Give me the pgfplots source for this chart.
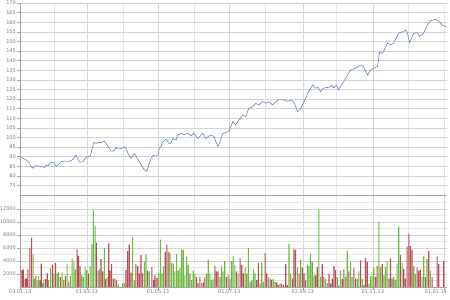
\documentclass[border=0pt]{standalone}
\usepackage{fontspec}
\setmainfont{DejaVu Sans}
\usepackage{pgfplots}
\pgfplotsset{compat=1.18}
\definecolor{pline}{RGB}{92,124,178}
\definecolor{vgreen}{RGB}{105,188,62}
\definecolor{vred}{RGB}{185,75,85}
\definecolor{gmaj}{RGB}{212,212,212}
\definecolor{gmin}{RGB}{230,230,230}
\definecolor{axl}{RGB}{165,165,165}
\definecolor{tl}{RGB}{125,125,125}
\pgfplotsset{
  chartbase/.style={
    scale only axis,
    xmin=1.8, xmax=367.5,
    axis x line*=bottom, axis y line*=left,
    axis line style={axl, line width=0.6pt},
    tick align=outside, major tick length=3pt, minor tick length=0pt,
    tick style={axl, line width=0.5pt},
    /pgf/number format/assume math mode=true,
    /pgf/number format/1000 sep={},
    tick label style={font=\fontsize{5}{6}\selectfont, text=tl, inner sep=1pt},
    scaled y ticks=false,
    xtick={2,59,120,181,244,304},
    minor xtick={31,90,151,212,273,334,365},
    grid=both,
    major grid style={gmaj, line width=0.5pt},
    minor grid style={gmin, line width=0.5pt},
  }
}
\begin{document}
\begin{tikzpicture}
\useasboundingbox (0pt,0pt) rectangle (450pt,300pt);
\begin{axis}[chartbase, anchor=north west, at={(20pt,297pt)}, width=427pt, height=192pt,
  ymin=70, ymax=170, ytick={75,80,...,170},
  xticklabels={}, xtick style={draw=none}]
\addplot[pline, line width=0.55pt, mark=none] coordinates {
(2.9,89.6) (7.1,88.2) (9.9,86.8) (11.4,84.8) (12.9,83.9) (14.2,85.1) (17.1,85.2) (19.9,84.8)
(22.8,84.4) (24.2,85.7) (25.7,85.2) (27.0,86.2) (28.5,87.0) (31.3,86.8) (32.8,84.8) (34.2,85.7)
(37.0,87.4) (39.9,87.7) (42.8,87.5) (45.6,87.9) (47.0,88.6) (48.4,89.6) (49.9,90.8) (51.3,88.6)
(53.3,87.0) (55.6,87.4) (58.4,89.6) (60.4,90.0) (62.1,90.3) (63.3,93.4) (65.0,97.4) (67.0,96.9)
(68.9,97.4) (71.2,97.2) (74.1,98.1) (76.4,96.0) (78.3,94.3) (79.8,92.9) (82.1,92.9) (84.1,94.8)
(85.5,94.0) (88.3,94.1) (91.1,95.2) (92.6,94.3) (94.9,90.8) (96.9,89.1) (98.3,90.3) (99.7,91.7)
(102.6,88.6) (104.0,87.4) (106.3,85.1) (108.2,83.1) (110.3,82.4) (111.1,83.4) (112.5,86.5) (114.0,89.1)
(116.5,90.8) (120.0,90.8) (121.1,94.3) (122.5,95.2) (124.2,97.8) (126.8,99.0) (129.4,96.9) (131.1,97.0)
(132.8,99.5) (135.3,98.6) (137.0,101.3) (139.6,102.1) (142.2,101.3) (145.6,102.1) (148.2,100.7) (150.7,102.1)
(154.1,99.5) (158.4,102.1) (160.9,99.5) (165.2,101.3) (167.8,100.5) (169.5,98.0) (171.2,95.2) (172.9,97.5)
(175.5,102.1) (178.1,102.6) (180.6,103.0) (184.1,108.2) (186.6,106.5) (189.2,109.1) (192.6,111.7) (195.2,110.8)
(197.7,115.1) (201.1,116.0) (203.7,117.7) (206.3,116.9) (209.7,118.6) (212.3,117.7) (214.8,118.6) (218.2,116.9)
(220.8,118.6) (223.4,119.5) (227.6,119.5) (231.1,118.8) (233.6,119.5) (236.2,118.6) (239.6,113.4) (242.2,115.1)
(246.4,120.3) (249.0,124.0) (252.4,127.3) (255.0,125.7) (256.7,126.0) (259.3,123.8) (261.8,125.7) (265.2,126.0)
(269.5,127.0) (270.3,125.7) (272.9,127.3) (274.6,124.7) (278.9,129.0) (282.3,132.5) (284.9,135.1) (289.2,136.0)
(293.5,137.7) (296.0,136.9) (299.4,132.5) (302.0,135.0) (304.6,136.0) (308.0,137.0) (309.8,144.6) (312.3,143.7)
(316.5,149.0) (319.1,148.3) (321.7,149.0) (326.0,154.2) (329.4,155.0) (332.0,155.9) (333.7,154.2) (335.4,149.3)
(338.8,154.2) (342.2,154.5) (343.9,152.5) (347.3,154.2) (350.7,158.5) (353.3,160.7) (357.6,161.5) (360.1,160.7)
(363.6,158.5) (366.2,157.7) (367.5,157.5)
};
\end{axis}
\begin{axis}[chartbase, anchor=south west, at={(20pt,13pt)}, width=427pt, height=91pt,
  ymin=0, ymax=14000, ytick={2000,4000,...,12000},
  minor ytick={1000,3000,...,13000},
  xticklabels={03.01.13,01.03.13,01.05.13,01.07.13,02.09.13,01.11.13},
  xticklabel style={yshift=1pt},
  extra x ticks={365}, extra x tick labels={01.01.14},
  extra x tick style={grid=major, xticklabel style={anchor=north east, xshift=4pt}}]
\addplot[ybar, bar width=0.95, bar shift=0pt, fill=vgreen, draw=none] coordinates {
(13.1,5000) (14.2,1300) (16.5,1100) (17.7,1700) (21.1,600) (22.2,1100) (26.2,1100) (28.0,2900)
(30.8,2100) (33.6,2100) (34.8,2300) (37.9,2300) (39.3,1100) (42.2,3500) (45.0,1700) (46.4,4400)
(47.9,4000) (49.3,2700) (54.7,1800) (56.1,1500) (57.6,3100) (59.0,2600) (61.8,3200) (63.3,6600)
(64.7,11800) (66.1,9400) (70.1,2800) (74.1,6000) (76.4,1500) (83.2,1300) (86.0,400) (89.7,600)
(91.2,600) (98.3,7700) (99.7,1000) (108.3,3900) (109.7,5000) (112.5,2400)
(120.5,2100) (122.0,7300) (123.4,2100) (124.8,3200) (128.8,5400) (131.6,3700) (133.1,3600) (134.5,2400)
(135.9,5100) (137.3,2500) (138.8,2900) (140.2,5800) (141.6,5700) (143.0,1800) (144.5,4700) (145.9,3400)
(148.7,1100) (150.2,2500) (151.6,2100) (157.3,600) (161.5,2100) (163.0,4200) (164.4,2100) (165.8,1100)
(167.2,1300) (173.0,1500) (174.4,3200) (175.8,2400) (177.2,4000) (181.5,1300) (182.9,4000) (184.3,4800)
(185.8,3400) (188.6,2100) (194.6,3000) (196.0,2100) (197.4,6000) (200.3,1000) (201.7,2700) (203.1,2100)
(208.8,3700) (210.3,800) (214.5,1500) (218.8,1200) (220.2,800) (224.5,500) (232.2,6600) (233.6,2100)
(239.3,3000)
(242.2,4200) (247.9,3400) (249.3,3200) (250.7,5100) (252.1,3900) (253.6,1800) (257.8,12000) (259.3,1600)
(263.5,1200) (265.0,600) (273.5,1500) (276.4,2500) (280.6,1600) (282.1,5600) (284.9,3900) (286.3,1500)
(290.6,1300) (292.0,2400) (294.9,1200) (300.6,500) (302.0,1700) (303.4,1700) (304.8,3000) (309.1,10000)
(310.5,3100) (313.4,1800) (314.8,3100) (316.2,4000) (321.9,1500) (323.4,1100) (324.8,3600) (326.2,9300)
(329.1,3700) (339.0,3200) (340.5,2000) (346.2,1500) (347.6,4700) (350.4,4300) (353.3,2500)
};
\addplot[ybar, bar width=0.95, bar shift=0pt, fill=vred, draw=none] coordinates {
(3.4,2600) (4.6,2700) (6.3,1300) (7.4,1300) (8.6,2700) (10.3,6000) (11.7,7600) (15.4,1700)
(18.8,1000) (20.0,3600) (23.7,1200) (25.1,2100) (29.6,3400) (32.2,3700) (36.5,1500) (40.7,1700)
(43.6,800) (50.7,5800) (51.9,4800) (53.3,3200) (60.4,2100) (67.2,6800) (68.7,2500) (71.2,4300)
(72.7,2400) (75.2,1200) (77.8,6700) (79.0,2500) (80.3,3500) (81.8,1300) (84.6,1000) (92.6,2600)
(94.0,5500) (95.4,6500) (96.9,2200) (101.1,3500) (102.6,3200) (104.0,2100) (105.4,4900) (106.8,2100)
(111.1,2500)
(114.8,3100) (116.2,1100) (117.4,1800) (119.1,1400) (126.2,5400) (127.6,6500) (130.2,5300) (147.3,2100)
(153.0,1500) (154.4,600) (155.9,1600) (158.7,700) (160.1,1500) (168.7,3200) (170.1,2400) (171.5,2400)
(178.6,1500) (180.1,1800) (187.2,2400) (190.3,4400) (191.7,3400) (193.2,2100) (198.9,800) (204.6,1100)
(206.0,3700) (207.4,500) (211.7,5200) (213.1,2100) (216.0,1300) (217.4,1100) (221.7,700) (223.1,300)
(225.9,500) (227.4,300) (229.4,3500) (230.8,300) (235.1,1300) (236.5,5800) (237.9,5700) (240.8,2100)
(243.6,3000) (245.0,2100) (246.4,1000) (255.0,1800) (256.4,3100) (260.7,3500) (262.1,1500) (266.4,2000)
(267.8,500) (269.2,1300) (270.7,3200) (272.1,2600) (274.9,300) (277.8,1200) (279.2,2700) (283.5,2400)
(287.8,2900) (289.2,1300) (293.5,4100) (296.3,300) (297.7,4400) (299.2,3900) (306.3,1500) (307.7,3200)
(312.0,3500) (317.7,1300) (319.1,4400) (320.5,1300) (327.6,4900) (330.5,2800) (331.9,1300) (333.3,6200)
(334.8,8200) (336.2,6300) (337.6,5700) (341.9,3000) (343.3,2500) (344.7,2700) (349.0,1500) (351.9,5500)
(354.7,1500) (359.0,4700) (360.4,3500) (364.7,4000)
};
\end{axis}
\end{tikzpicture}
\end{document}
